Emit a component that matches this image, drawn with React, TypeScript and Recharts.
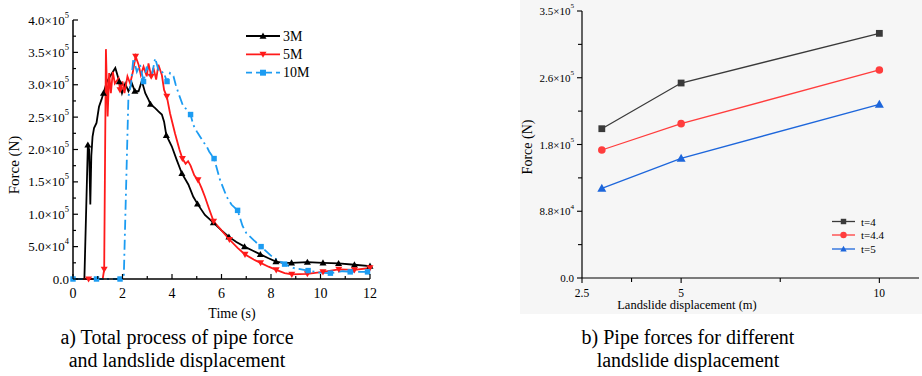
import React from 'react';
import { LineChart, Line, XAxis, YAxis, Legend } from 'recharts';

const SERIF = '"Liberation Serif", "Times New Roman", serif';

// ---- panel a) total process, force (N) vs time (s)
const time3M = [0, 0.46, 0.6, 0.65, 0.7, 0.74, 0.79, 0.85, 0.95, 1.05, 1.15, 1.23, 1.37, 1.5, 1.71, 1.87, 1.98, 2.11, 2.24, 2.38, 2.5, 2.65, 2.78, 2.92, 3.05, 3.13, 3.32, 3.45, 3.59, 3.68, 3.77, 3.99, 4.19, 4.4, 4.66, 4.86, 5.03, 5.33, 5.67, 6.0, 6.3, 6.6, 6.93, 7.25, 7.57, 7.9, 8.2, 8.5, 8.83, 9.47, 10.1, 10.73, 11.37, 12];
const force3M = [0, 0, 207000, 200000, 115000, 190000, 220000, 233000, 241000, 266000, 277000, 287000, 305000, 313000, 326000, 305000, 287000, 302000, 290000, 302000, 290000, 290000, 306000, 287000, 277000, 270000, 264000, 259000, 254000, 243000, 222000, 205000, 184000, 163000, 146000, 127000, 116000, 99000, 87000, 75000, 65000, 57000, 50000, 44000, 38000, 32000, 27000, 25000, 25000, 26000, 25000, 24000, 22000, 20000];
const marks3M = [0.6, 1.23, 1.87, 2.5, 3.13, 3.77, 4.4, 5.03, 5.67, 6.3, 6.93, 7.57, 8.2, 8.83, 9.47, 10.1, 10.73, 11.37, 12];

const time5M = [0, 0.63, 1.2, 1.26, 1.33, 1.4, 1.46, 1.53, 1.61, 1.69, 1.84, 1.9, 2.0, 2.08, 2.2, 2.31, 2.42, 2.53, 2.65, 2.74, 2.85, 2.98, 3.05, 3.16, 3.25, 3.36, 3.45, 3.59, 3.68, 3.79, 3.92, 4.12, 4.3, 4.42, 4.55, 4.65, 4.75, 4.9, 5.05, 5.2, 5.33, 5.5, 5.68, 6.0, 6.32, 6.65, 6.95, 7.3, 7.58, 7.9, 8.21, 8.55, 8.84, 9.47, 10.1, 10.74, 11.37, 12];
const force5M = [0, 0, 0, 15000, 355000, 251000, 318000, 287000, 320000, 302000, 310000, 292000, 305000, 287000, 313000, 302000, 320000, 344000, 331000, 315000, 328000, 313000, 333000, 313000, 326000, 308000, 331000, 315000, 292000, 282000, 256000, 225000, 200000, 186000, 178000, 182000, 175000, 160000, 153000, 140000, 127000, 108000, 89000, 75000, 61000, 48000, 38000, 30000, 25000, 19000, 14000, 9000, 7000, 8000, 11000, 15000, 14000, 17000];
const marks5M = [0.63, 1.26, 1.9, 2.53, 3.16, 3.79, 4.42, 5.05, 5.68, 6.32, 6.95, 7.58, 8.21, 8.84, 9.47, 10.1, 10.74, 11.37, 12];

const time10M = [0, 0.95, 1.9, 2.05, 2.24, 2.34, 2.44, 2.58, 2.71, 2.85, 2.98, 3.1, 3.19, 3.32, 3.45, 3.55, 3.65, 3.8, 3.92, 4.06, 4.15, 4.26, 4.46, 4.6, 4.75, 4.86, 5.0, 5.13, 5.3, 5.4, 5.5, 5.7, 5.94, 6.21, 6.4, 6.65, 6.85, 7.0, 7.3, 7.6, 8.09, 8.55, 8.9, 9.5, 9.97, 10.4, 10.9, 11.2, 11.9, 12];
const force10M = [0, 0, 0, 0, 282000, 300000, 341000, 320000, 331000, 305000, 328000, 312000, 315000, 341000, 323000, 318000, 320000, 305000, 318000, 313000, 300000, 287000, 266000, 262000, 254000, 238000, 228000, 220000, 210000, 205000, 197000, 186000, 153000, 127000, 115000, 106000, 82000, 71000, 60000, 50000, 33000, 23000, 17000, 13000, 10000, 9000, 12000, 11000, 11000, 12000];
const marks10M = [0, 0.95, 1.9, 2.85, 3.8, 4.75, 5.7, 6.65, 7.6, 8.55, 9.5, 10.4, 11.2, 11.9];

const timeTicks = [0, 1, 2, 3, 4, 5, 6, 7, 8, 9, 10, 11, 12];
const forceTicksA = [0, 25000, 50000, 75000, 100000, 125000, 150000, 175000, 200000, 225000, 250000, 275000, 300000, 325000, 350000, 375000, 400000];

// ---- panel b) force vs landslide displacement
const displacement = [3, 5, 10];
const forceT4 = [195700, 255600, 320700];
const forceT44 = [167800, 202300, 272700];
const forceT5 = [117600, 156900, 227700];

const dispTicks = [2.5, 3.75, 5, 7.5, 10];
const dispLabels = ['2.5', '', '5', '', '10'];
const forceTicksB = [0, 43750, 87500, 131250, 175000, 218750, 262500, 306250, 350000];

const series3M = time3M.map((t, i) => ({ t, f: force3M[i] }));
const series5M = time5M.map((t, i) => ({ t, f: force5M[i] }));
const series10M = time10M.map((t, i) => ({ t, f: force10M[i] }));
const dataB = displacement.map((d, i) => ({ d, t4: forceT4[i], t44: forceT44[i], t5: forceT5[i] }));

const C_BLACK = '#000000';
const C_RED = '#ff1a1a';
const C_CYAN = '#1c9cf2';
const DASH_DOT = '10 4 2 4';

const B_GRAY = '#3a3a3a';
const B_RED = '#ff3d3d';
const B_BLUE = '#1d66db';

function sciParts(v: number) {
  if (v === 0) return { mant: '0.0', exp: '' };
  const exp = Math.floor(Math.log10(v));
  return { mant: (v / Math.pow(10, exp)).toFixed(1), exp: String(exp) };
}

function SciText({ x, y, value, size }: any) {
  const { mant, exp } = sciParts(value);
  return (
    <text x={x} y={y} textAnchor="end" dominantBaseline="central" fontSize={size} fontFamily={SERIF} fill="#000">
      {mant}
      {exp && '×10'}
      {exp && (
        <tspan dy={-size * 0.42} fontSize={size * 0.65}>
          {exp}
        </tspan>
      )}
    </text>
  );
}

function Marker({ shape, cx, cy, s, color }: any) {
  if (shape === 'up')
    return <polygon points={`${cx},${cy - s} ${cx - s},${cy + s * 0.75} ${cx + s},${cy + s * 0.75}`} fill={color} />;
  if (shape === 'down')
    return <polygon points={`${cx},${cy + s} ${cx - s},${cy - s * 0.75} ${cx + s},${cy - s * 0.75}`} fill={color} />;
  if (shape === 'square') return <rect x={cx - s * 0.85} y={cy - s * 0.85} width={s * 1.7} height={s * 1.7} fill={color} />;
  return <circle cx={cx} cy={cy} r={s} fill={color} />;
}

function makeDot(shape: string, color: string, s: number, marks?: number[]) {
  return (props: any) => {
    const { cx, cy, payload, index } = props;
    if (marks && !marks.includes(payload.t)) return <g key={`dot-${index}`} />;
    return (
      <g key={`dot-${index}`}>
        <Marker shape={shape} cx={cx} cy={cy} s={s} color={color} />
      </g>
    );
  };
}

// ticks drawn by hand: panel a has inward ticks, panel b outward
const TimeTick = ({ x, y, payload }: any) => {
  const major = payload.value % 2 === 0;
  return (
    <g>
      <line x1={x} x2={x} y1={y} y2={y - (major ? 5 : 3)} stroke="#000" strokeWidth={1.2} />
      {major && (
        <text x={x} y={y + 14} textAnchor="middle" dominantBaseline="central" fontSize={14} fontFamily={SERIF} fill="#000">
          {payload.value}
        </text>
      )}
    </g>
  );
};

const ForceTickA = ({ x, y, payload }: any) => {
  const major = payload.value % 50000 === 0;
  return (
    <g>
      <line x1={x} x2={x + (major ? 5 : 3)} y1={y} y2={y} stroke="#000" strokeWidth={1.2} />
      {major && <SciText x={x - 4} y={y} value={payload.value} size={13} />}
    </g>
  );
};

const DispTick = ({ x, y, payload, index }: any) => {
  const label = dispLabels[dispTicks.indexOf(payload.value)] ?? '';
  return (
    <g key={index}>
      <line x1={x} x2={x} y1={y} y2={y + (label ? 5 : 4)} stroke="#000" strokeWidth={1.1} />
      {label && (
        <text x={x} y={y + 15} textAnchor="middle" dominantBaseline="central" fontSize={11.5} fontFamily={SERIF} fill="#000">
          {label}
        </text>
      )}
    </g>
  );
};

const ForceTickB = ({ x, y, payload }: any) => {
  const major = payload.value % 87500 === 0;
  return (
    <g>
      <line x1={x} x2={x - (major ? 5 : 4)} y1={y} y2={y} stroke="#000" strokeWidth={1.1} />
      {major && <SciText x={x - 8} y={y} value={payload.value} size={11} />}
    </g>
  );
};

function AxisTitle({ px, py, text, size, rotate }: any) {
  return (
    <text
      x={px}
      y={py}
      transform={rotate ? `rotate(-90 ${px} ${py})` : undefined}
      textAnchor="middle"
      dominantBaseline="central"
      fontSize={size}
      fontFamily={SERIF}
      fill="#000"
    >
      {text}
    </text>
  );
}

function LegendBox({ items, x1, x2, tx, rows, size, width, height, s, dashed }: any) {
  return (
    <svg width={width} height={height} style={{ overflow: 'visible' }}>
      {items.map((it: any, i: number) => (
        <g key={it.name}>
          <line x1={x1} x2={x2} y1={rows[i]} y2={rows[i]} stroke={it.color} strokeWidth={it.w} strokeDasharray={it.dash} />
          <Marker shape={it.shape} cx={(x1 + x2) / 2} cy={rows[i]} s={s} color={it.color} />
          <text x={tx} y={rows[i]} dominantBaseline="central" fontSize={size} fontFamily={SERIF} fill="#000">
            {it.name}
          </text>
        </g>
      ))}
    </svg>
  );
}

const legendA = [
  { name: '3M', color: C_BLACK, shape: 'up', w: 1.8 },
  { name: '5M', color: C_RED, shape: 'down', w: 1.8 },
  { name: '10M', color: C_CYAN, shape: 'square', w: 1.8, dash: '6 4' },
];
const legendB = [
  { name: 't=4', color: B_GRAY, shape: 'square', w: 1.3 },
  { name: 't=4.4', color: B_RED, shape: 'circle', w: 1.3 },
  { name: 't=5', color: B_BLUE, shape: 'up', w: 1.3 },
];

const captionStyle: React.CSSProperties = {
  position: 'absolute',
  fontFamily: SERIF,
  fontSize: 20,
  lineHeight: '23px',
  textAlign: 'center',
  color: '#000',
};

export default function App() {
  return (
    <div style={{ position: 'absolute', left: 0, top: 0, width: 922, height: 376, background: '#fff', overflow: 'hidden' }}>
      {/* faint grey backdrop of panel b */}
      <div style={{ position: 'absolute', left: 520, top: 0, width: 402, height: 314, background: '#f6f6f6' }} />

      <div style={{ position: 'absolute', left: 0, top: 0 }}>
        <LineChart width={400} height={325} margin={{ top: 20, right: 30, left: 0, bottom: 0 }}>
          <XAxis
            dataKey="t"
            type="number"
            domain={[0, 12]}
            ticks={timeTicks}
            interval={0}
            height={46}
            tickSize={0}
            tickMargin={0}
            tickLine={false}
            tick={TimeTick}
            axisLine={{ stroke: '#000', strokeWidth: 1.5 }}
            label={<AxisTitle px={232} py={313} text="Time (s)" size={14} />}
          />
          <YAxis
            type="number"
            domain={[0, 400000]}
            ticks={forceTicksA}
            interval={0}
            width={73}
            tickSize={0}
            tickMargin={0}
            tickLine={false}
            tick={ForceTickA}
            axisLine={{ stroke: '#000', strokeWidth: 1.5 }}
            label={<AxisTitle px={14} py={165} text="Force (N)" size={15} rotate />}
          />
          <Legend
            layout="vertical"
            align="center"
            verticalAlign="middle"
            wrapperStyle={{ left: 240, top: 26, width: 90, height: 56 }}
            content={() => (
              <LegendBox items={legendA} x1={6} x2={40} tx={43} rows={[10, 28.3, 46.7]} size={14} width={90} height={56} s={3.5} />
            )}
          />
          <Line data={series3M} dataKey="f" stroke={C_BLACK} strokeWidth={1.8} dot={makeDot('up', C_BLACK, 3.5, marks3M)} activeDot={false} isAnimationActive={false} />
          <Line data={series5M} dataKey="f" stroke={C_RED} strokeWidth={1.8} dot={makeDot('down', C_RED, 3.5, marks5M)} activeDot={false} isAnimationActive={false} />
          <Line data={series10M} dataKey="f" stroke={C_CYAN} strokeWidth={1.8} strokeDasharray={DASH_DOT} dot={makeDot('square', C_CYAN, 3.2, marks10M)} activeDot={false} isAnimationActive={false} />
        </LineChart>
      </div>

      <div style={{ position: 'absolute', left: 510, top: 0 }}>
        <LineChart width={412} height={320} data={dataB} margin={{ top: 11, right: 3, left: 0, bottom: 0 }}>
          <XAxis
            dataKey="d"
            type="number"
            domain={[2.5, 11]}
            ticks={dispTicks}
            interval={0}
            height={42}
            tickSize={0}
            tickMargin={0}
            tickLine={false}
            tick={DispTick}
            axisLine={{ stroke: '#000', strokeWidth: 1.2 }}
            label={<AxisTitle px={177} py={305} text="Landslide displacement (m)" size={12.5} />}
          />
          <YAxis
            type="number"
            domain={[0, 350000]}
            ticks={forceTicksB}
            interval={0}
            width={72}
            tickSize={0}
            tickMargin={0}
            tickLine={false}
            tick={ForceTickB}
            axisLine={{ stroke: '#000', strokeWidth: 1.2 }}
            label={<AxisTitle px={17} py={147} text="Force (N)" size={14} rotate />}
          />
          <Legend
            layout="vertical"
            align="center"
            verticalAlign="middle"
            wrapperStyle={{ left: 318, top: 212, width: 80, height: 46 }}
            content={() => (
              <LegendBox items={legendB} x1={4} x2={27} tx={33} rows={[9.5, 23, 37]} size={11} width={80} height={46} s={3.2} />
            )}
          />
          <Line dataKey="t4" stroke={B_GRAY} strokeWidth={1.3} dot={makeDot('square', B_GRAY, 4)} activeDot={false} isAnimationActive={false} />
          <Line dataKey="t44" stroke={B_RED} strokeWidth={1.3} dot={makeDot('circle', B_RED, 3.8)} activeDot={false} isAnimationActive={false} />
          <Line dataKey="t5" stroke={B_BLUE} strokeWidth={1.3} dot={makeDot('up', B_BLUE, 4.5)} activeDot={false} isAnimationActive={false} />
        </LineChart>
      </div>

      <div style={{ ...captionStyle, left: 27, top: 326, width: 300 }}>
        a) Total process of pipe force
        <br />
        and landslide displacement
      </div>
      <div style={{ ...captionStyle, left: 538, top: 326, width: 300 }}>
        b) Pipe forces for different
        <br />
        landslide displacement
      </div>
    </div>
  );
}
